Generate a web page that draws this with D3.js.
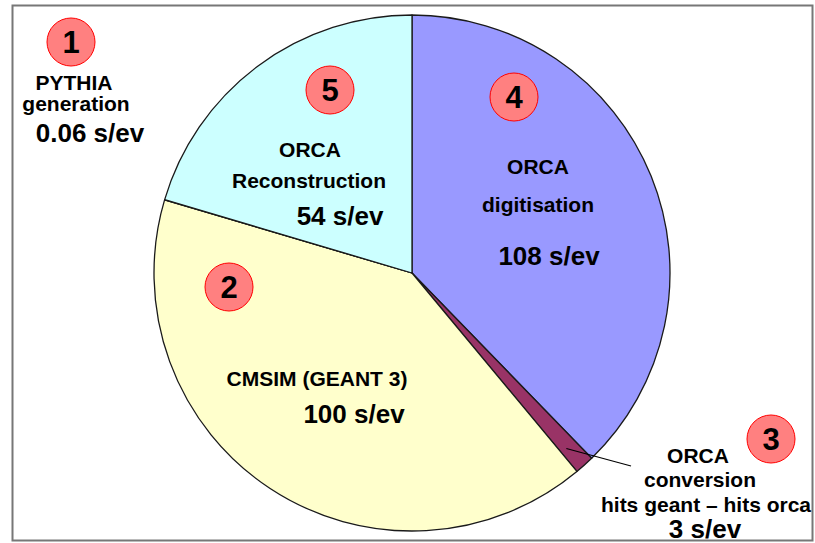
<!DOCTYPE html>
<html>
<head>
<meta charset="utf-8">
<script src="https://cdn.jsdelivr.net/npm/d3@7"></script>
<style>
  html, body { margin: 0; padding: 0; background: #fff; }
  svg text { font-family: "Liberation Sans", Arial, sans-serif; font-weight: bold; fill: #000; }
</style>
</head>
<body>
<svg id="chart" width="815" height="543"></svg>
<script>
// slices, clockwise from 12 o'clock (angles as drawn in the reference)
const stages = ['ORCA digitisation', 'ORCA conversion', 'CMSIM (GEANT 3)', 'PYTHIA generation', 'ORCA Reconstruction'];
const sliceValues = [108, 3.5, 116.2, 0.06, 58.4];
const sliceColors = ['#9999ff', '#993366', '#ffffcc', '#ffffcc', '#ccffff'];

// the text written next to each stage
const stageNumbers = ['4', '3', '2', '1', '5'];
const stageTimes = ['108 s/ev', '3 s/ev', '100 s/ev', '0.06 s/ev', '54 s/ev'];
const stageLines = [
  ['ORCA', 'digitisation'],
  ['ORCA', 'conversion', 'hits geant \u2013 hits orca'],
  ['CMSIM (GEANT 3)'],
  ['PYTHIA', 'generation'],
  ['ORCA', 'Reconstruction'],
];

// where the text boxes sit on the page
const layout = [
  { badge: [514, 97], lines: [[538, 174], [538, 212]], time: [549, 265] },
  { badge: [771, 439], lines: [[698, 463], [700, 487], [706, 512]], time: [705, 538] },
  { badge: [229, 287], lines: [[317, 386]], time: [354, 423] },
  { badge: [71, 42], lines: [[74, 90], [76, 111]], time: [90, 142] },
  { badge: [330, 90], lines: [[310, 157], [309, 188]], time: [340, 225] },
];

const svg = d3.select('#chart');
const cx = 412, cy = 273, radius = 258;

// frame
svg.append('rect')
  .attr('x', 12.5).attr('y', 5.5)
  .attr('width', 800).attr('height', 535)
  .style('fill', 'none')
  .style('stroke', '#777')
  .style('stroke-width', 2);

let pie = d3.pie().sort(null).value(d => d);
let arc = d3.arc().innerRadius(0).outerRadius(radius);
let slices = pie(sliceValues);

let g = svg.append('g').attr('transform', `translate(${cx},${cy})`);

g.selectAll('path')
  .data(slices)
  .join('path')
  .attr('d', arc)
  .style('fill', (d, i) => sliceColors[i])
  .style('stroke', '#1a1a1a')
  .style('stroke-width', 1.3)
  .style('stroke-linejoin', 'round');

// leader line for the thin conversion slice
let conv = slices[1];
let mid = (conv.startAngle + conv.endAngle) / 2;
let r0 = radius * 0.93;
svg.append('line')
  .attr('x1', cx + r0 * Math.sin(mid) - 6).attr('y1', cy - r0 * Math.cos(mid) - 3)
  .attr('x2', 631).attr('y2', 466)
  .style('stroke', '#000')
  .style('stroke-width', 1.2);

// badges
stageNumbers.forEach((n, i) => {
  let [bx, by] = layout[i].badge;
  svg.append('circle')
    .attr('cx', bx).attr('cy', by).attr('r', 24)
    .style('fill', '#ff8080')
    .style('stroke', '#ff0000')
    .style('stroke-width', 1);
  svg.append('text')
    .attr('x', bx).attr('y', by + 11)
    .attr('text-anchor', 'middle')
    .style('font-size', '31px')
    .text(n);
});

// labels
stageLines.forEach((lines, i) => {
  lines.forEach((t, j) => {
    let [lx, ly] = layout[i].lines[j];
    svg.append('text')
      .attr('x', lx).attr('y', ly)
      .attr('text-anchor', 'middle')
      .style('font-size', '21px')
      .text(t);
  });
  let [tx, ty] = layout[i].time;
  svg.append('text')
    .attr('x', tx).attr('y', ty)
    .attr('text-anchor', 'middle')
    .style('font-size', '26px')
    .text(stageTimes[i]);
});
</script>
</body>
</html>
